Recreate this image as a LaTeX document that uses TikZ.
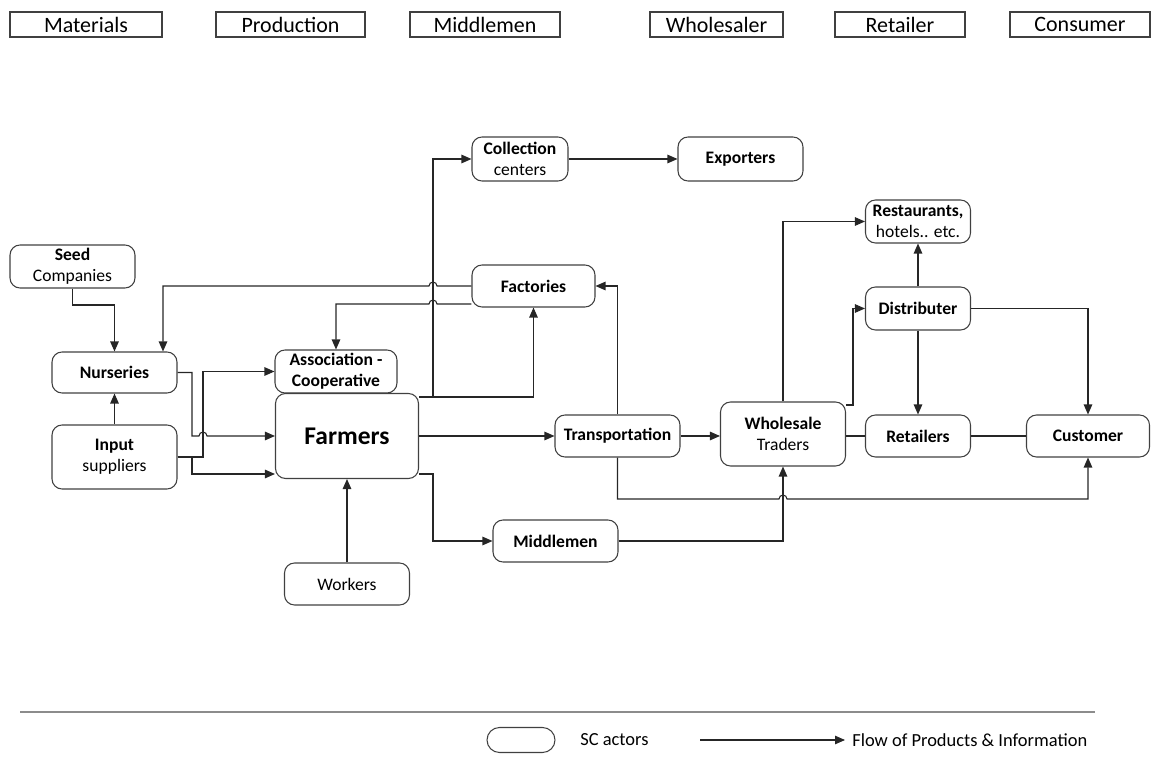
\documentclass[tikz,border=0pt]{standalone}
\usepackage{fontspec}
\setmainfont{Carlito}
\usetikzlibrary{arrows.meta}

\begin{document}
\begin{tikzpicture}[x=0.02cm, y=-0.02cm,
	actor/.style={draw=black!75, rounded corners=2mm, line width=0.6pt, align=center, inner sep=0pt, font=\fontsize{10}{12}\selectfont},
	head/.style={draw=black!75, line width=0.6pt, inner sep=0pt, minimum height=0.5cm, font=\fontsize{12.5}{13}\selectfont},
	flow/.style={draw=black!85, line width=0.6pt, -{Triangle[length=2mm,width=1.7mm]}},
	link/.style={draw=black!85, line width=0.6pt}]
	\useasboundingbox (0,0) rectangle (1161,760);

	% stages
	\node (h1) at (86,24.5) [head, minimum width=3.04cm] {Materials};
	\node (h2) at (290.5,24.5) [head, minimum width=2.98cm] {Production};
	\node (h3) at (485,24.5) [head, minimum width=3cm] {Middlemen};
	\node (h4) at (716.5,24.5) [head, minimum width=2.66cm] {Wholesaler};
	\node (h5) at (900,24.5) [head, minimum width=2.6cm] {Retailer};
	\node (h6) at (1080,24.5) [head, minimum width=2.8cm] {Consumer};

	% actors
	\node (seed) at (72.5,266.5) [actor, minimum width=2.5cm, minimum height=0.86cm] {\textbf{Seed}\\Companies};
	\node (nurs) at (114.5,372.5) [actor, minimum width=2.5cm, minimum height=0.82cm] {\textbf{Nurseries}};
	\node (input) at (114.5,457) [actor, minimum width=2.5cm, minimum height=1.28cm] {\textbf{Input}\\suppliers};
	\node (assoc) at (336,371.5) [actor, minimum width=2.44cm, minimum height=0.86cm] {\textbf{Association -}\\\textbf{Cooperative}};
	\node (farm) at (347,436) [actor, minimum width=2.86cm, minimum height=1.7cm, font=\fontsize{14.5}{16}\selectfont\bfseries] {Farmers};
	\node (work) at (347,584) [actor, minimum width=2.5cm, minimum height=0.84cm] {Workers};
	\node (coll) at (520,159) [actor, minimum width=1.92cm, minimum height=0.88cm] {\textbf{Collection}\\centers};
	\node (exp) at (740.5,159) [actor, minimum width=2.5cm, minimum height=0.88cm] {\textbf{Exporters}};
	\node (fact) at (533.5,286) [actor, minimum width=2.46cm, minimum height=0.84cm] {\textbf{Factories}};
	\node (trans) at (617.5,436) [actor, minimum width=2.5cm, minimum height=0.84cm] {\textbf{Transportation}};
	\node (midd) at (555.5,541) [actor, minimum width=2.5cm, minimum height=0.84cm] {\textbf{Middlemen}};
	\node (whol) at (783,434) [actor, minimum width=2.5cm, minimum height=1.28cm] {\textbf{Wholesale}\\Traders};
	\node (rest) at (918,221.5) [actor, minimum width=2.1cm, minimum height=0.86cm] {\textbf{Restaurants,}\\hotels.. etc.};
	\node (dist) at (918,308.5) [actor, minimum width=2.1cm, minimum height=0.86cm] {\textbf{Distributer}};
	\node (ret) at (918,436) [actor, minimum width=2.1cm, minimum height=0.84cm] {\textbf{Retailers}};
	\node (cust) at (1088,436) [actor, minimum width=2.46cm, minimum height=0.84cm] {\textbf{Customer}};

	% bends
	\coordinate (b1) at (163,286);
	\coordinate (b2) at (336,304);
	\coordinate (b3) at (192,474);
	\coordinate (b4) at (203,371.5);
	\coordinate (b5) at (433,397);
	\coordinate (b6) at (433,474);
	\coordinate (b7) at (617.5,499);
	\coordinate (b8) at (853,405);

	% flows
	\draw[flow] (seed.south) -- (72.5,305) -- (114.5,305) -- (nurs.north);
	\draw[flow] (input.north) -- (nurs.south);
	\draw[flow] (fact.west) -- (437,286) arc[start angle=0, end angle=180, radius=0.8mm] -- (b1) -- (b1 |- nurs.north);
	\draw[flow] (fact.west |- b2) -- (437,304) arc[start angle=0, end angle=180, radius=0.8mm] -- (b2) -- (assoc.north);
	\draw[flow] (nurs.east) -- (192,372.5) -- (192,436) -- (199,436) arc[start angle=180, end angle=0, radius=0.8mm] -- (farm.west);
	\draw[flow] (input.east) -- (192,457) -- (b3) -- (b3 -| farm.west);
	\draw[flow] (input.east) -- (203,457) -- (b4) -- (assoc.west);
	\draw[flow] (farm.north east |- b5) -- (b5) -- (b5 |- coll.west) -- (coll.west);
	\draw[flow] (b5) -- (fact.south |- b5) -- (fact.south);
	\draw[flow] (coll.east) -- (exp.west);
	\draw[flow] (farm.east) -- (trans.west);
	\draw[flow] (farm.south east |- b6) -- (b6) -- (b6 |- midd.west) -- (midd.west);
	\draw[flow] (work.north) -- (farm.south);
	\draw[flow] (trans.north) -- (trans.north |- fact.east) -- (fact.east);
	\draw[flow] (trans.south) -- (b7) -- (779,499) arc[start angle=180, end angle=0, radius=0.8mm] -- (b7 -| cust.south) -- (cust.south);
	\draw[flow] (trans.east) -- (trans.east -| whol.west);
	\draw[flow] (midd.east) -- (midd.east -| whol.south) -- (whol.south);
	\draw[flow] (whol.north) -- (whol.north |- rest.west) -- (rest.west);
	\draw[flow] (whol.north east |- b8) -- (b8) -- (b8 |- dist.west) -- (dist.west);
	\draw[link] (whol.east |- ret.west) -- (ret.west);
	\draw[link] (ret.east) -- (cust.west);
	\draw[flow] (dist.north) -- (rest.south);
	\draw[flow] (dist.south) -- (ret.north);
	\draw[flow] (dist.east) -- (dist.east -| cust.north) -- (cust.north);

	% legend
	\draw[black!45, line width=1.2pt] (20,712) -- (1095,712);
	\node (key) at (521,740) [actor, rounded corners=2.5mm, minimum width=1.36cm, minimum height=0.5cm] {};
	\node (keytext) at (580,740) [anchor=west, inner sep=0pt, font=\fontsize{10.5}{12}\selectfont] {SC actors};
	\node (flowtext) at (852,740) [anchor=west, inner sep=0pt, font=\fontsize{10.5}{12}\selectfont] {Flow of Products \& Information};
	\coordinate (a0) at (700,740);
	\draw[flow] (a0) -- ([xshift=-0.14cm]flowtext.west);
\end{tikzpicture}
\end{document}
